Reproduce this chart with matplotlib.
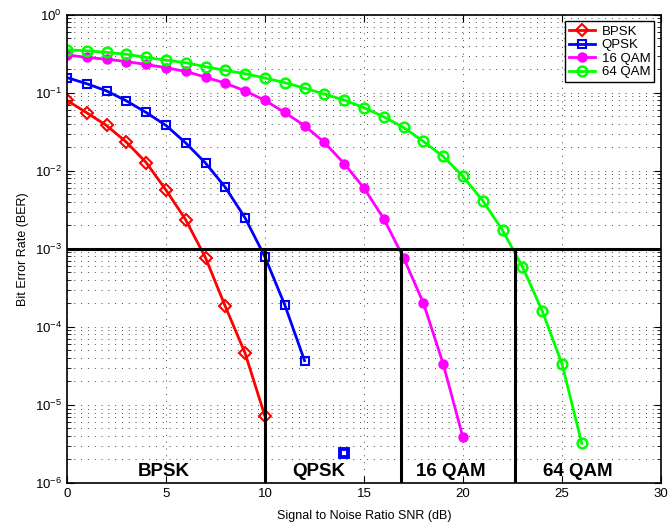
import numpy as np
import matplotlib
matplotlib.use("Agg")
from matplotlib import pyplot as plt
from matplotlib.ticker import LogLocator, NullFormatter, MultipleLocator, FixedLocator

plt.rcParams['font.family'] = ['Liberation Sans', 'DejaVu Sans']
plt.rcParams['mathtext.fontset'] = 'custom'
plt.rcParams['mathtext.rm'] = 'Liberation Sans'
plt.rcParams['mathtext.it'] = 'Liberation Sans:italic'

# BER values
snr_bpsk = np.arange(0, 11)
ber_bpsk = [0.08, 0.0556, 0.0382, 0.0234, 0.0128, 0.0057, 0.00236, 7.7e-4,
            1.83e-4, 4.6e-5, 7.2e-6]
snr_qpsk = np.arange(0, 13)
ber_qpsk = [0.157, 0.131, 0.106, 0.079, 0.056, 0.0383, 0.0228, 0.0126, 0.00615,
            0.00249, 7.9e-4, 1.92e-4, 3.7e-5]
qpsk_stray_x = [14]
qpsk_stray_y = [2.44e-6]
snr_16qam = np.arange(0, 21)
ber_16qam = [0.307, 0.284, 0.27, 0.252, 0.231, 0.21, 0.188, 0.159, 0.133, 0.106,
             0.080, 0.056, 0.038, 0.0232, 0.0124, 0.00604, 0.00244, 7.7e-4,
             2.03e-4, 3.37e-5, 3.84e-6]
snr_64qam = np.arange(0, 27)
ber_64qam = [0.356, 0.346, 0.33, 0.313, 0.284, 0.263, 0.243, 0.216, 0.194, 0.176,
             0.155, 0.135, 0.115, 0.0964, 0.0809, 0.0645, 0.0494, 0.036, 0.0239,
             0.0153, 0.0085, 0.00415, 0.00173, 5.93e-4, 1.61e-4, 3.37e-5, 3.21e-6]

target_ber = 1e-3
cross_snr = [10, 16.85, 22.65]
region_labels = ["BPSK", "QPSK", "16 QAM", "64 QAM"]
region_x = [4.9, 12.7, 19.4, 25.8]

fig = plt.figure(figsize=(6.69, 5.29), dpi=100)
ax = fig.add_axes([0.1, 0.087, 0.888, 0.885])

ax.plot(snr_bpsk, ber_bpsk, color='#ff0000', lw=2, marker='D', ms=6,
        mfc='none', mew=1.5, label='BPSK')
ax.plot(snr_qpsk, ber_qpsk, color='#0000ff', lw=2, marker='s', ms=6,
        mfc='none', mew=1.5, label='QPSK')
ax.plot(qpsk_stray_x, qpsk_stray_y, ls='none', marker='s', ms=5.5,
        color='#0000ff', mfc='none', mew=2.8)
ax.plot(snr_16qam, ber_16qam, color='#ff00ff', lw=2, marker='o', ms=6,
        mfc='#ff00ff', mew=1.5, label='16 QAM')
ax.plot(snr_64qam, ber_64qam, color='#00ff00', lw=2, marker='o', ms=7,
        mfc='none', mew=1.8, label='64 QAM')

ax.axhline(target_ber, color='k', lw=2.2)
for xs in cross_snr:
    ax.plot([xs, xs], [1e-6, target_ber], color='k', lw=2.2)

for name, xs in zip(region_labels, region_x):
    ax.text(xs, 1.4e-6, name, ha='center', va='center', fontsize=13.5,
            fontweight='bold')

ax.set_yscale('log')
ax.set_xlim(0, 30)
ax.set_ylim(1e-6, 1)
ax.xaxis.set_major_locator(MultipleLocator(5))
decades = [10.0**k for k in range(-6, 1)]
ax.yaxis.set_major_locator(FixedLocator(decades))
minor = [m * 10.0**k for k in range(-6, 0) for m in range(2, 10)]
ax.yaxis.set_minor_locator(FixedLocator(minor))
ax.yaxis.set_minor_formatter(NullFormatter())

ax.grid(True, which='major', ls=(0, (1, 6)), color='#444444', lw=0.7)
ax.grid(True, which='minor', axis='y', ls=(0, (1, 6)), color='#444444', lw=0.7)
ax.tick_params(which='both', direction='in', top=True, right=True,
               labelsize=9.5)
ax.tick_params(which='major', length=5)
ax.tick_params(which='minor', length=3, labelleft=False)
for sp in ax.spines.values():
    sp.set_linewidth(1.2)

ax.set_xlabel("Signal to Noise Ratio SNR (dB)", fontsize=9, labelpad=7)
ax.set_ylabel("Bit Error Rate (BER)", fontsize=9)

leg = ax.legend(loc='upper right', fontsize=9.5, fancybox=False,
                edgecolor='k', framealpha=1, borderaxespad=0.5,
                handlelength=2.0, labelspacing=0.1, borderpad=0.3,
                handletextpad=0.5)
leg.get_frame().set_linewidth(1.0)

fig.savefig("out.png", dpi=100)
